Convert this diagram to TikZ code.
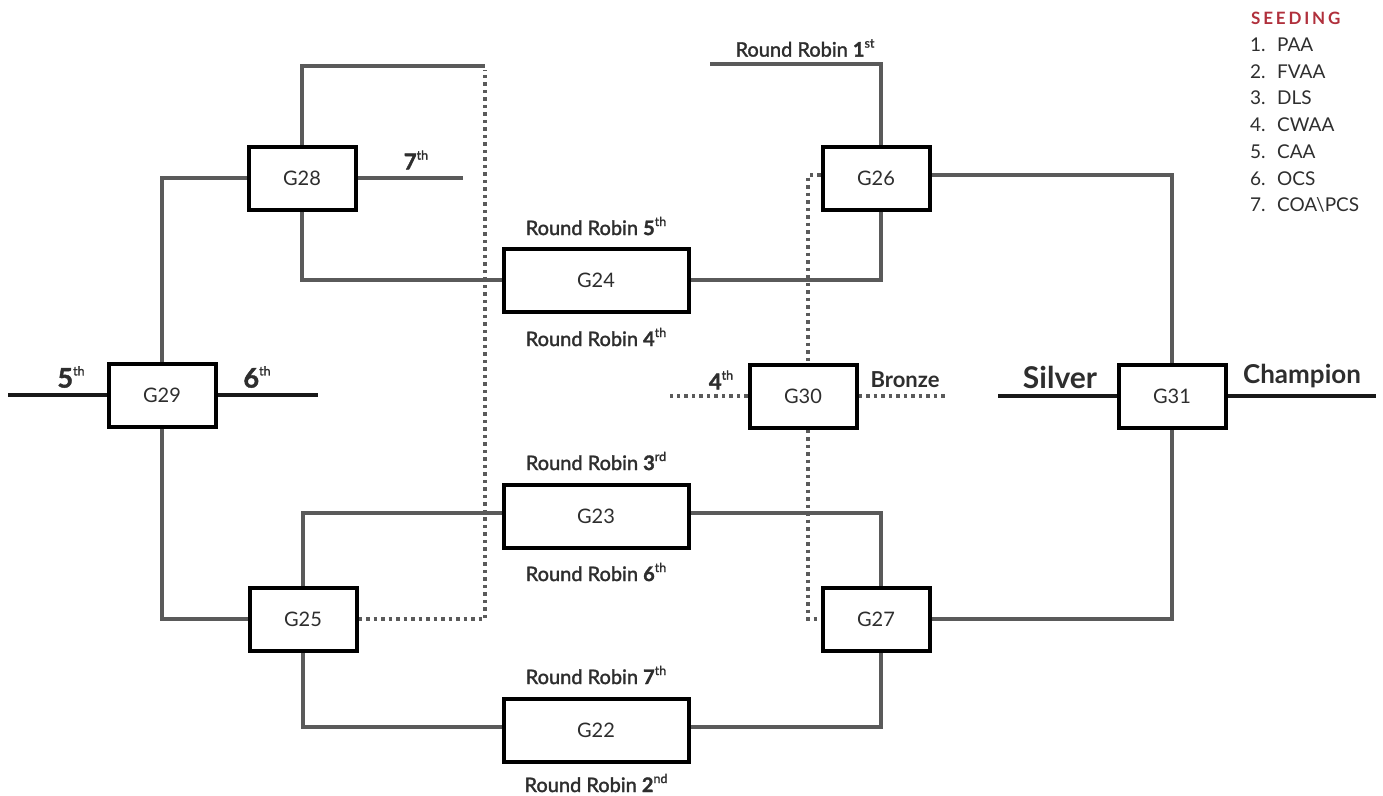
\documentclass[tikz,border=0pt]{standalone}
\usepackage{fontspec}
\setmainfont{Lato}
\newfontfamily\semifont[FakeBold=1.6]{Lato}
\usetikzlibrary{backgrounds}
\definecolor{linegray}{HTML}{5A5A5A}
\definecolor{seedred}{HTML}{B0303C}
\definecolor{txtgray}{HTML}{2E2E2E}
\newcommand{\ordn}[2]{\textbf{#1}\raisebox{0.45em}{\fontsize{12.5}{12.5}\selectfont\semifont #2}}
\begin{document}
\begin{tikzpicture}[x=1pt,y=-1pt,
  game/.style={draw=black, line width=4pt, fill=white, minimum width=107pt, minimum height=63pt, inner sep=0pt, font=\fontsize{20}{20}\selectfont, text=txtgray},
  widegame/.style={game, minimum width=185pt},
  link/.style={draw=linegray, line width=4pt},
  dotline/.style={draw=linegray, line width=4pt, dash pattern=on 3.5pt off 4pt},
  blk/.style={draw=black!90, line width=4pt},
  lbl/.style={font=\fontsize{20}{20}\selectfont\semifont, text=txtgray, inner sep=0pt},
  biglbl/.style={font=\fontsize{25}{25}\selectfont\bfseries, text=txtgray, inner sep=0pt},
  seed/.style={font=\fontsize{19}{19}\selectfont, text=txtgray, anchor=west, inner sep=0pt}]
\useasboundingbox (0,0) rectangle (1383,795);

% games
\node[game] (g28) at (302,178) {G28};
\node[game] (g29) at (162,395) {G29};
\node[game] (g25) at (303,619) {G25};
\node[widegame] (g24) at (596,280) {G24};
\node[widegame] (g23) at (596,516) {G23};
\node[widegame] (g22) at (596,730) {G22};
\node[game] (g26) at (876,178) {G26};
\node[game] (g30) at (803,396) {G30};
\node[game] (g27) at (876,619) {G27};
\node[game] (g31) at (1172,396) {G31};

% free ends
\coordinate (dtop) at (485,66);
\coordinate (s7) at (463,178);
\coordinate (rr1) at (710,64);
\coordinate (l4) at (670,396);
\coordinate (br) at (946,396);
\coordinate (sil) at (998,396);
\coordinate (ch) at (1376,396);
\coordinate (l5) at (8,395);
\coordinate (l6) at (318,395);

\begin{scope}[on background layer]
\draw[link] (g28.north) |- (dtop);
\draw[link] (g28.west) -| (g29.north);
\draw[link] (g28.south) |- (g24.west);
\draw[link] (g28.east) -- (s7);
\draw[link] (g29.south) |- (g25.west);
\draw[link] (g25.north) |- ([yshift=3pt]g23.west);
\draw[link] (g25.south) |- ([yshift=3pt]g22.west);
\draw[dotline] (g25.east) -| ([yshift=-4pt]dtop);
\draw[link] (g24.east) -| ([xshift=5pt]g26.south);
\draw[link] ([xshift=5pt]g26.north) |- (rr1);
\draw[link] ([yshift=3pt]g26.east) -| (g31.north);
\draw[dotline] ([yshift=3pt]g26.west) -| ([xshift=5pt]g30.north);
\draw[dotline] ([xshift=5pt]g30.south) |- (g27.west);
\draw[link] ([yshift=3pt]g23.east) -| ([xshift=5pt]g27.north);
\draw[link] ([yshift=3pt]g22.east) -| ([xshift=5pt]g27.south);
\draw[link] (g27.east) -| (g31.south);
\draw[dotline] (g30.west) -- (l4);
\draw[dotline] (g30.east) -- (br);
\draw[blk] (g31.west) -- (sil);
\draw[blk] (g31.east) -- (ch);
\draw[blk] (g29.west) -- (l5);
\draw[blk] (g29.east) -- (l6);
\end{scope}

% labels
\node[lbl, font=\fontsize{22}{22}\selectfont\semifont] (t7) at (416,160) {\ordn{7}{th}};
\node[lbl] (trr1) at (805,48) {Round Robin \ordn{1}{st}};
\node[lbl] (trr5) at (596,226) {Round Robin \ordn{5}{th}};
\node[lbl] (trr4) at (596,337) {Round Robin \ordn{4}{th}};
\node[lbl] (trr3) at (596,461) {Round Robin \ordn{3}{rd}};
\node[lbl] (trr6) at (596,572) {Round Robin \ordn{6}{th}};
\node[lbl] (trr7) at (596,675) {Round Robin \ordn{7}{th}};
\node[lbl] (trr2) at (596,783) {Round Robin \ordn{2}{nd}};
\node[lbl, font=\fontsize{27}{27}\selectfont\semifont] (t5) at (71,377) {\ordn{5}{th}};
\node[lbl, font=\fontsize{27}{27}\selectfont\semifont] (t6) at (257,377) {\ordn{6}{th}};
\node[lbl, font=\fontsize{22}{22}\selectfont\semifont] (t4) at (721,380) {\ordn{4}{th}};
\node[lbl, font=\fontsize{22}{22}\selectfont\bfseries] (tbr) at (905,380) {Bronze};
\node[biglbl, font=\fontsize{30}{30}\selectfont\bfseries] (tsil) at (1060,377) {Silver};
\node[biglbl, font=\fontsize{26}{26}\selectfont\bfseries] (tch) at (1302,376) {Champion};

% seeding
\node[font=\fontsize{17}{17}\selectfont\bfseries, text=seedred, anchor=west, inner sep=0pt] (seedh) at (1251,18) {S\,E\,E\,D\,I\,N\,G};
\node[seed] (s1) at (1250,45) {1.\hspace{0.6em}PAA};
\node[seed] (s2) at (1250,72) {2.\hspace{0.6em}FVAA};
\node[seed] (s3) at (1250,98) {3.\hspace{0.6em}DLS};
\node[seed] (s4) at (1250,125) {4.\hspace{0.6em}CWAA};
\node[seed] (s5) at (1250,152) {5.\hspace{0.6em}CAA};
\node[seed] (s6) at (1250,179) {6.\hspace{0.6em}OCS};
\node[seed] (s7n) at (1250,205) {7.\hspace{0.6em}COA\textbackslash PCS};
\end{tikzpicture}
\end{document}
